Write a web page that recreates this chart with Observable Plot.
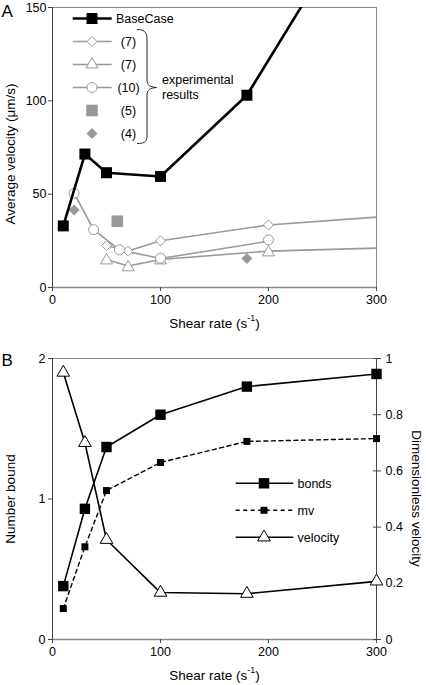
<!DOCTYPE html>
<html><head><meta charset="utf-8">
<script src="https://cdn.jsdelivr.net/npm/d3@7"></script>
<script src="https://cdn.jsdelivr.net/npm/@observablehq/plot@0.6"></script>
<style>
body{margin:0;background:#fff}
#chart{position:relative;width:426px;height:685px;background:#fff}
#chart svg{display:block}
</style>
</head><body><div id="chart"></div>
<script>
// ---------- Panel A data ----------
const baseX = [10, 30, 50, 100, 180, 300];
const baseY = [33, 71.5, 61.5, 59.5, 103, 216];

const diaX = [50, 70, 100, 200];
const diaY = [22.5, 19.5, 25, 33.5];
const diaLineX = [50, 70, 100, 200, 300];
const diaLineY = [22.5, 19.5, 25, 33.5, 37.7];

const triX = [50, 70, 100, 200];
const triY = [14.5, 10.8, 14.5, 18.8];
const triLineX = [50, 70, 100, 200, 300];
const triLineY = [15, 11.5, 15, 19.5, 21.1];

const circX = [20, 38, 62, 100, 200];
const circY = [50.5, 31, 20.2, 15.7, 25.5];
const circLineX = [20, 38, 62, 100, 200];
const circLineY = [50.5, 31, 20.2, 15.5, 24.8];

const sq5X = [60];
const sq5Y = [35.5];
const dia4X = [20, 180];
const dia4Y = [41.5, 15.5];

const legendA = ["BaseCase", "(7)", "(7)", "(10)", "(5)", "(4)"];
const ticksAX = [0, 100, 200, 300];
const ticksAY = [0, 50, 100, 150];

// ---------- Panel B data ----------
const shearB = [10, 30, 50, 100, 180, 300];
const bonds = [0.38, 0.93, 1.37, 1.60, 1.80, 1.89];
const mv = [0.22, 0.66, 1.06, 1.26, 1.41, 1.43];
const velocity = [0.95, 0.70, 0.355, 0.167, 0.163, 0.207];
const legendB = ["bonds", "mv", "velocity"];
const ticksBLeft = [0, 1, 2];
const ticksBRight = [0, 0.2, 0.4, 0.6, 0.8, 1];

// ---------- helpers ----------
const zip = (xs, ys) => xs.map((x, i) => ({x, y: ys[i]}));
const sqSym = {draw(c, s){const r=Math.sqrt(s/Math.PI); c.rect(-r,-r,2*r,2*r);}};
const diaSym = {draw(c, s){const r=Math.sqrt(s/Math.PI); c.moveTo(0,-r); c.lineTo(r,0); c.lineTo(0,r); c.lineTo(-r,0); c.closePath();}};
const triSym = {draw(c, s){const r=Math.sqrt(s/Math.PI), h=r*Math.sqrt(3); c.moveTo(0,-2*h/3); c.lineTo(r,h/3); c.lineTo(-r,h/3); c.closePath();}};
const circSym = {draw(c, s){const r=Math.sqrt(s/Math.PI); c.moveTo(r,0); c.arc(0,0,r,0,2*Math.PI); c.closePath();}};
const symPath = (sym, r) => d3.symbol(sym, r*r*Math.PI)();
const fmt = d => String(+d.toFixed(1));

const FONT = "Liberation Sans, Arial, Helvetica, sans-serif";
const GRAY = "#999";
const AXIS = "#444";
const style = {fontFamily: FONT, fontSize: "12.5px", background: "white", color: "#000", overflow: "visible"};

// ---------- Panel A ----------
const plotA = Plot.plot({
  width: 426, height: 340,
  marginLeft: 52, marginRight: 50, marginTop: 7, marginBottom: 53,
  style,
  x: {domain: [0, 300]},
  y: {domain: [0, 150]},
  marks: [
    Plot.frame({stroke: "#888"}),
    Plot.ruleX([0], {stroke: AXIS}),
    Plot.ruleY([0], {stroke: "#888", strokeWidth: 1.5}),
    Plot.axisY({ticks: ticksAY, tickSize: 4, tickPadding: 2, stroke: AXIS, tickFormat: fmt, label: null}),
    Plot.axisX({ticks: ticksAX, tickSize: 4, tickPadding: 4, stroke: AXIS, tickFormat: fmt, label: null}),
    Plot.line(zip(diaLineX, diaLineY), {x: "x", y: "y", stroke: GRAY, strokeWidth: 1.6}),
    Plot.line(zip(triLineX, triLineY), {x: "x", y: "y", stroke: GRAY, strokeWidth: 1.6}),
    Plot.line(zip(circLineX, circLineY), {x: "x", y: "y", stroke: GRAY, strokeWidth: 1.6}),
    Plot.dot(zip(diaX, diaY), {x: "x", y: "y", symbol: diaSym, r: 5, stroke: GRAY, fill: "white", strokeWidth: 1}),
    Plot.dot(zip(triX, triY), {x: "x", y: "y", symbol: triSym, r: 6, stroke: GRAY, fill: "white", strokeWidth: 1}),
    Plot.dot(zip(circX, circY), {x: "x", y: "y", symbol: circSym, r: 5, stroke: GRAY, fill: "white", strokeWidth: 1}),
    Plot.dot(zip(sq5X, sq5Y), {x: "x", y: "y", symbol: sqSym, r: 5.8, fill: GRAY, stroke: "none"}),
    Plot.dot(zip(dia4X, dia4Y), {x: "x", y: "y", symbol: diaSym, r: 5.5, fill: GRAY, stroke: "none"}),
    Plot.line(zip(baseX, baseY), {x: "x", y: "y", stroke: "black", strokeWidth: 2.6, clip: true}),
    Plot.dot(zip(baseX, baseY), {x: "x", y: "y", symbol: sqSym, r: 5.5, fill: "black", stroke: "none", clip: true})
  ]
});

// ---------- Panel B ----------
const bData = shearB.map((x, i) => ({x, bonds: bonds[i], mv: mv[i], velocity: velocity[i]}));
const rightToLeft = v => v * 2;
const plotB = Plot.plot({
  width: 426, height: 345,
  marginLeft: 52, marginRight: 50, marginTop: 18, marginBottom: 46,
  style,
  x: {domain: [0, 300]},
  y: {domain: [0, 2]},
  marks: [
    Plot.frame({stroke: "#888"}),
    Plot.ruleX([0], {stroke: AXIS}),
    Plot.ruleX([300], {stroke: AXIS}),
    Plot.ruleY([0], {stroke: "#888", strokeWidth: 1.5}),
    Plot.axisY({ticks: ticksBLeft, tickSize: 4, tickPadding: 3, stroke: AXIS, tickFormat: fmt, label: null}),
    Plot.axisY({anchor: "right", ticks: ticksBRight.map(rightToLeft), tickSize: 4, tickPadding: 5, stroke: AXIS,
      tickFormat: d => fmt(d / 2), label: null}),
    Plot.axisY({anchor: "right", ticks: ticksBRight.map(rightToLeft), tickSize: 4, dx: -4, stroke: AXIS,
      tickFormat: () => "", label: null}),
    Plot.axisX({ticks: ticksAX, tickSize: 4, tickPadding: 4, stroke: AXIS, tickFormat: fmt, label: null}),
    Plot.line(bData, {x: "x", y: "mv", stroke: "black", strokeWidth: 1.4, strokeDasharray: "4,3.5"}),
    Plot.line(bData, {x: "x", y: d => rightToLeft(d.velocity), stroke: "black", strokeWidth: 1.6}),
    Plot.line(bData, {x: "x", y: "bonds", stroke: "black", strokeWidth: 1.6}),
    Plot.dot(bData, {x: "x", y: "mv", symbol: sqSym, r: 3.5, fill: "black", stroke: "none"}),
    Plot.dot(bData, {x: "x", y: d => rightToLeft(d.velocity), symbol: triSym, r: 6.3, fill: "white", stroke: "black", strokeWidth: 1}),
    Plot.dot(bData, {x: "x", y: "bonds", symbol: sqSym, r: 5.2, fill: "black", stroke: "none"})
  ]
});

const chart = document.getElementById("chart");
chart.appendChild(plotA);
chart.appendChild(plotB);

// ---------- Annotations: titles, legends ----------
function xTitle(svg, cx, cy) {
  const t = d3.select(svg).append("text").attr("x", cx).attr("y", cy).attr("text-anchor", "middle")
    .attr("dy", "0.35em").attr("font-family", FONT).attr("font-size", 13.5).attr("fill", "black");
  t.append("tspan").text("Shear rate (s");
  t.append("tspan").attr("font-size", 9).attr("dy", "-0.75em").text("-1");
  t.append("tspan").attr("dy", "0.55em").text(")");
}
function yTitle(svg, cx, cy, label, rot) {
  d3.select(svg).append("text").attr("transform", `translate(${cx},${cy}) rotate(${rot})`)
    .attr("text-anchor", "middle").attr("dy", "0.35em").attr("font-family", FONT).attr("font-size", 13.5)
    .attr("fill", "black").text(label);
}
function panelLabel(svg, x, y, label) {
  d3.select(svg).append("text").attr("x", x).attr("y", y).attr("dy", "0.35em").attr("text-anchor", "start")
    .attr("font-family", FONT).attr("font-size", 17).attr("fill", "black").text(label);
}

// Panel A annotations
xTitle(plotA, 214.5, 323);
yTitle(plotA, 10, 154, "Average velocity (\u03bcm/s)", -90);
panelLabel(plotA, 1.5, 11.5, "A");

const gA = d3.select(plotA).append("g").attr("font-family", FONT).attr("font-size", 12.5).attr("text-anchor", "start");
const legSymsA = [
  {sym: sqSym, r: 5.5, fill: "black", stroke: "none", line: "black", lw: 2.6},
  {sym: diaSym, r: 5, fill: "white", stroke: GRAY, line: GRAY, lw: 1.6},
  {sym: triSym, r: 6, fill: "white", stroke: GRAY, line: GRAY, lw: 1.6},
  {sym: circSym, r: 5, fill: "white", stroke: GRAY, line: GRAY, lw: 1.6},
  {sym: sqSym, r: 5.8, fill: GRAY, stroke: "none", line: null},
  {sym: diaSym, r: 5.5, fill: GRAY, stroke: "none", line: null}
];
legendA.forEach((lab, i) => {
  const y = 18.5 + i * 23;
  const s = legSymsA[i];
  if (s.line) gA.append("line").attr("x1", 72.7).attr("x2", 111.7).attr("y1", y).attr("y2", y)
    .attr("stroke", s.line).attr("stroke-width", s.lw);
  gA.append("path").attr("d", symPath(s.sym, s.r)).attr("transform", `translate(92,${y})`)
    .attr("fill", s.fill).attr("stroke", s.stroke).attr("stroke-width", 1);
  const t = gA.append("text").attr("y", y).attr("dy", "0.35em").attr("fill", "black").text(lab);
  if (i === 0) t.attr("x", 116).attr("text-anchor", "start"); else t.attr("x", 128.5).attr("text-anchor", "middle");
});
gA.append("path")
  .attr("d", "M137,29.5 C144,29.5 147,32 147,39 L147,80 C147,85 150,87 156.5,87.5 C150,88 147,90 147,95 L147,136 C147,142 144,143.5 137,143.5")
  .attr("fill", "none").attr("stroke", "#222").attr("stroke-width", 1);
gA.append("text").attr("x", 162).attr("y", 80).attr("dy", "0.35em").attr("text-anchor", "start").attr("fill", "black").text("experimental");
gA.append("text").attr("x", 162).attr("y", 95).attr("dy", "0.35em").attr("text-anchor", "start").attr("fill", "black").text("results");

// Panel B annotations
xTitle(plotB, 214.5, 335);
yTitle(plotB, 10, 159, "Number bound", -90);
yTitle(plotB, 417, 158.5, "Dimensionless velocity", 90);
panelLabel(plotB, 1.5, 20, "B");

const gB = d3.select(plotB).append("g").attr("font-family", FONT).attr("font-size", 12.5).attr("text-anchor", "start");
const legSymsB = [
  {sym: sqSym, r: 5.2, fill: "black", stroke: "none", dash: null},
  {sym: sqSym, r: 3.5, fill: "black", stroke: "none", dash: "4,3.5"},
  {sym: triSym, r: 6.3, fill: "white", stroke: "black", dash: null}
];
legendB.forEach((lab, i) => {
  const y = 143.3 + i * 27;
  const s = legSymsB[i];
  const l = gB.append("line").attr("x1", 235.7).attr("x2", 293.3).attr("y1", y).attr("y2", y)
    .attr("stroke", "black").attr("stroke-width", s.dash ? 1.4 : 1.6);
  if (s.dash) l.attr("stroke-dasharray", s.dash);
  gB.append("path").attr("d", symPath(s.sym, s.r)).attr("transform", `translate(264,${y})`)
    .attr("fill", s.fill).attr("stroke", s.stroke).attr("stroke-width", 1);
  gB.append("text").attr("x", 297.5).attr("y", y).attr("dy", "0.35em").attr("text-anchor", "start").attr("fill", "black").text(lab);
});
</script></body></html>
